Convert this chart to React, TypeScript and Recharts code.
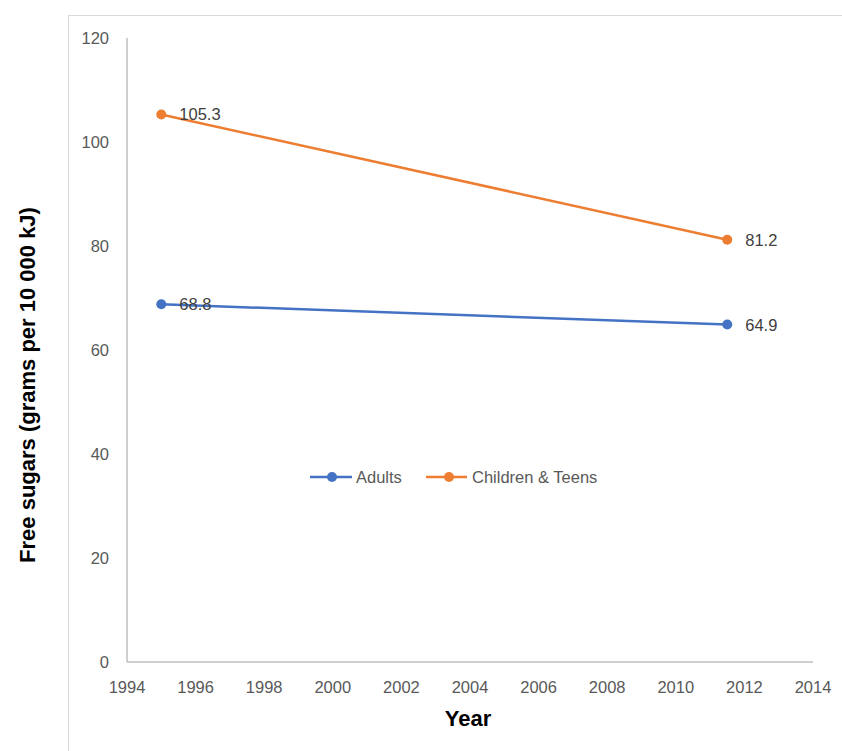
import React from 'react';
import { LineChart, Line, XAxis, YAxis, Legend, LabelList } from 'recharts';

// Survey years (mid-point of the 2011-12 survey plotted at 2011.5)
const years = [1995, 2011.5];
const adults = [68.8, 64.9];
const childrenTeens = [105.3, 81.2];

const xTicks = [1994, 1996, 1998, 2000, 2002, 2004, 2006, 2008, 2010, 2012, 2014];
const yTicks = [0, 20, 40, 60, 80, 100, 120];

const ADULT_COLOR = '#4472C4';
const CHILD_COLOR = '#ED7D31';
const FONT = '"Liberation Sans", Arial, sans-serif';
const TICK_COLOR = '#595959';

const data = years.map((year, i) => ({
  year,
  Adults: adults[i],
  'Children & Teens': childrenTeens[i],
}));

const XTick = (props: any) => {
  const { x, y, payload } = props;
  return (
    <text x={x} y={y + 31} textAnchor="middle" fontFamily={FONT} fontSize={16.5} fill={TICK_COLOR}>
      {payload.value}
    </text>
  );
};

const YTick = (props: any) => {
  const { x, y, payload } = props;
  return (
    <text x={x - 18} y={y + 6} textAnchor="end" fontFamily={FONT} fontSize={16.5} fill={TICK_COLOR}>
      {payload.value}
    </text>
  );
};

const valueLabel = (props: any) => {
  const { x, y, value } = props;
  return (
    <text x={x + 18} y={y + 6} textAnchor="start" fontFamily={FONT} fontSize={16.5} fill="#404040">
      {value}
    </text>
  );
};

const LegendContent = (props: any) => {
  const payload = props.payload || [];
  const slots = [
    { x1: 10, x2: 52, cx: 32, tx: 56 },
    { x1: 126, x2: 167, cx: 149, tx: 172 },
  ];
  return (
    <svg width={330} height={22} style={{ display: 'block' }}>
      {payload.map((entry: any, i: number) => {
        const s = slots[i];
        return (
          <g key={entry.value}>
            <line x1={s.x1} x2={s.x2} y1={11} y2={11} stroke={entry.color} strokeWidth={2.5} />
            <circle cx={s.cx} cy={11} r={5} fill={entry.color} />
            <text x={s.tx} y={16.5} fontFamily={FONT} fontSize={16.5} fill={TICK_COLOR}>
              {entry.value}
            </text>
          </g>
        );
      })}
    </svg>
  );
};

export default function App() {
  return (
    <div style={{ position: 'absolute', left: 0, top: 0, width: 842, height: 751, background: '#ffffff' }}>
      <div
        style={{
          position: 'absolute',
          left: 68,
          top: 15,
          right: 0,
          bottom: 0,
          borderLeft: '1px solid #d9d9d9',
          borderTop: '1px solid #d9d9d9',
        }}
      />
      <LineChart
        width={842}
        height={751}
        data={data}
        margin={{ top: 38, right: 29, bottom: 49, left: 67 }}
        style={{ position: 'absolute', left: 0, top: 0 }}
      >
        <XAxis
          dataKey="year"
          type="number"
          domain={[1994, 2014]}
          ticks={xTicks}
          interval={0}
          tickLine={false}
          tickSize={0}
          tickMargin={0}
          height={40}
          axisLine={{ stroke: '#bfbfbf', strokeWidth: 1.5 }}
          tick={<XTick />}
          label={{
            content: () => (
              <text x={468} y={726} textAnchor="middle" fontFamily={FONT} fontSize={22} fontWeight="bold" fill="#000">
                Year
              </text>
            ),
          }}
        />
        <YAxis
          type="number"
          domain={[0, 120]}
          ticks={yTicks}
          interval={0}
          tickLine={false}
          tickSize={0}
          tickMargin={0}
          width={60}
          axisLine={{ stroke: '#bfbfbf', strokeWidth: 1.5 }}
          tick={<YTick />}
          label={{
            content: () => (
              <text
                x={35}
                y={385}
                transform="rotate(-90 35 385)"
                textAnchor="middle"
                fontFamily={FONT}
                fontSize={22}
                fontWeight="bold"
                fill="#000"
              >
                Free sugars (grams per 10 000 kJ)
              </text>
            ),
          }}
        />
        <Legend
          layout="horizontal"
          verticalAlign="middle"
          align="center"
          content={<LegendContent />}
          wrapperStyle={{ position: 'absolute', left: 300, top: 466, width: 330, height: 22 }}
        />
        <Line
          type="linear"
          dataKey="Adults"
          stroke={ADULT_COLOR}
          strokeWidth={2.5}
          dot={{ r: 5, fill: ADULT_COLOR, stroke: ADULT_COLOR, strokeWidth: 0 }}
          activeDot={false}
          isAnimationActive={false}
        >
          <LabelList dataKey="Adults" content={valueLabel} />
        </Line>
        <Line
          type="linear"
          dataKey="Children & Teens"
          stroke={CHILD_COLOR}
          strokeWidth={2.5}
          dot={{ r: 5, fill: CHILD_COLOR, stroke: CHILD_COLOR, strokeWidth: 0 }}
          activeDot={false}
          isAnimationActive={false}
        >
          <LabelList dataKey="Children & Teens" content={valueLabel} />
        </Line>
      </LineChart>
    </div>
  );
}
